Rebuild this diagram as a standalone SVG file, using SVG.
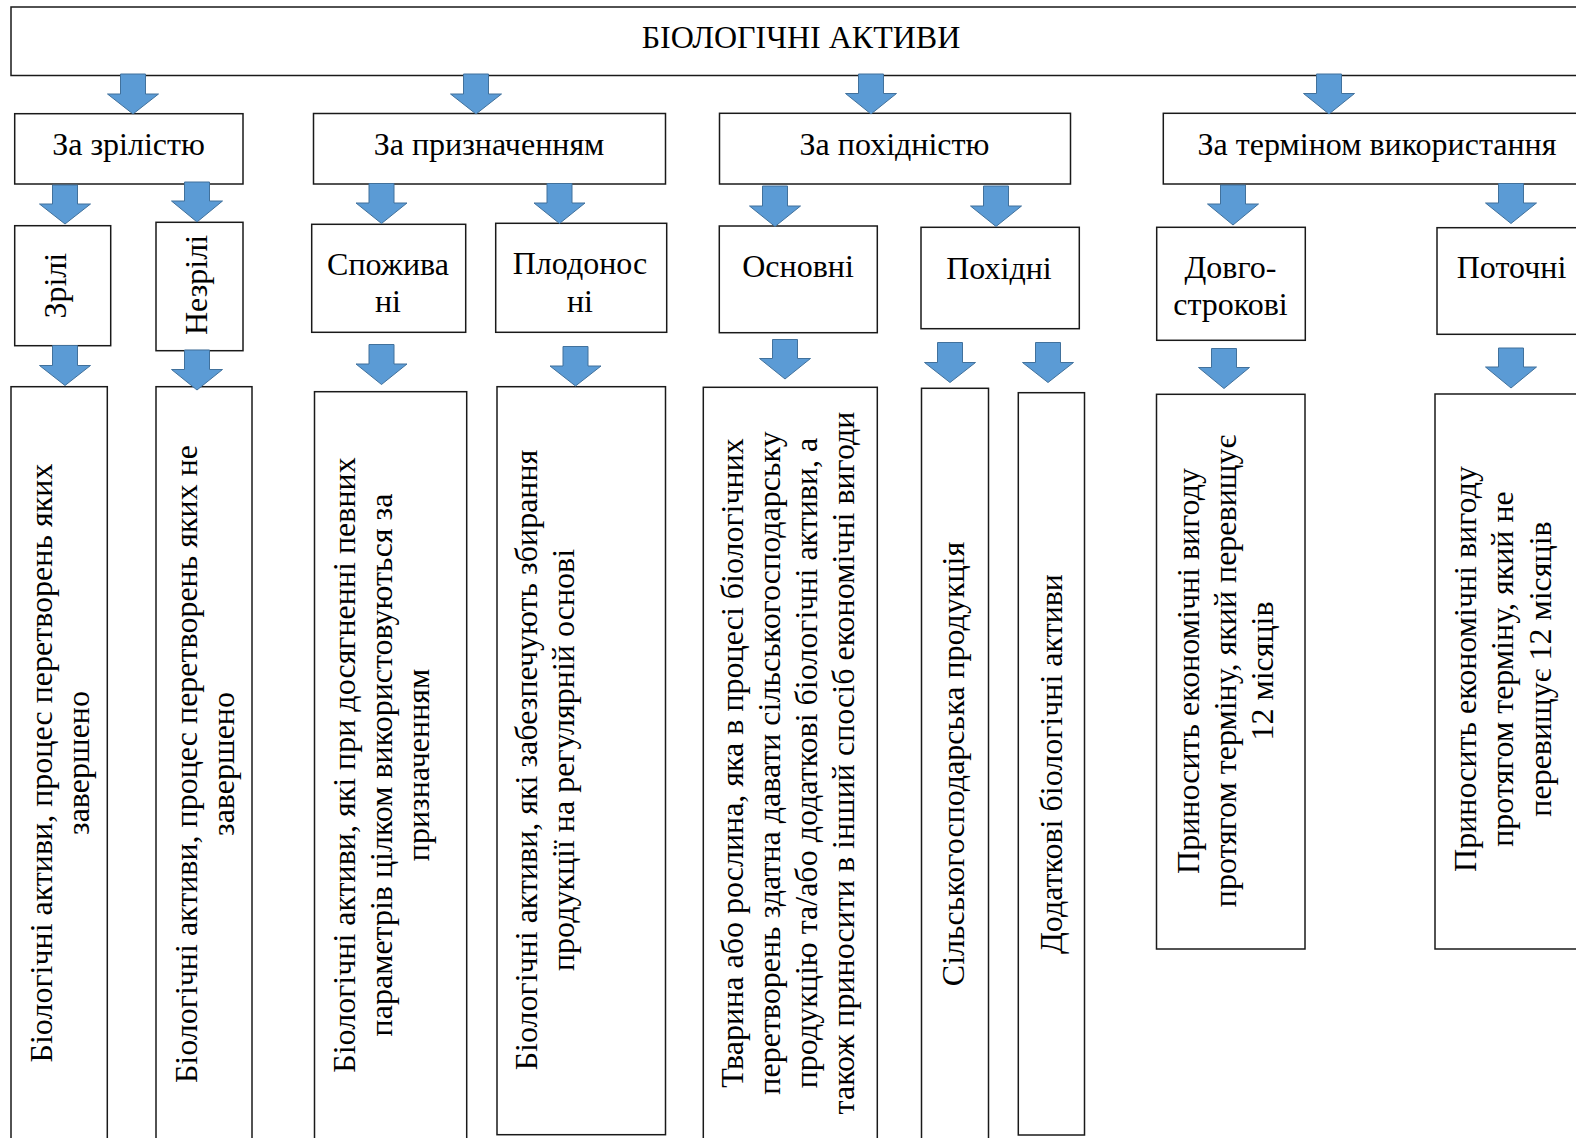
<svg xmlns="http://www.w3.org/2000/svg" width="1576" height="1138" viewBox="0 0 1576 1138">
<style>
.box{fill:#fff;stroke:#1a1a1a;stroke-width:1.5}
.arr{fill:#5B9BD5;stroke:#41719C;stroke-width:1}
text{font-family:"Liberation Serif","Times New Roman",serif;font-size:32px;fill:#000}
.c{text-anchor:middle}
</style>
<rect width="1576" height="1138" fill="#fff"/>
<g id="nodes">
<g id="root"><rect class="box" x="11" y="7" width="1600" height="68.5"/><text class="c" x="801" y="48">БІОЛОГІЧНІ АКТИВИ</text></g>
<g id="za-zrilistyu"><rect class="box" x="14.7" y="113.7" width="228.3" height="70.3"/><text class="c" x="128.5" y="155">За зрілістю</text></g>
<g id="za-pryznachennyam"><rect class="box" x="313.5" y="113.5" width="352" height="70.5"/><text class="c" x="489" y="155">За призначенням</text></g>
<g id="za-pokhidnistyu"><rect class="box" x="719.5" y="113.3" width="351" height="70.7"/><text class="c" x="894.5" y="155">За похідністю</text></g>
<g id="za-terminom"><rect class="box" x="1163.3" y="113.3" width="500" height="70.7"/><text class="c" x="1377" y="155">За терміном використання</text></g>

<g id="zrili"><rect class="box" x="14.7" y="225.7" width="96" height="120"/><text class="c" transform="translate(65.5,285.7) rotate(-90)">Зрілі</text></g>
<g id="nezrili"><rect class="box" x="156" y="222.3" width="87" height="128.4"/><text class="c" transform="translate(206.5,285) rotate(-90)">Незрілі</text></g>
<g id="spozhyvani"><rect class="box" x="311.7" y="224.3" width="154" height="108"/><text class="c" x="388" y="275">Спожива</text><text class="c" x="388" y="312">ні</text></g>
<g id="plodonosni"><rect class="box" x="495.7" y="223.3" width="171" height="109"/><text class="c" x="580" y="274">Плодонос</text><text class="c" x="580" y="312">ні</text></g>
<g id="osnovni"><rect class="box" x="719.3" y="226" width="158" height="106.7"/><text class="c" x="798" y="277">Основні</text></g>
<g id="pokhidni"><rect class="box" x="921" y="227.3" width="158.3" height="101.4"/><text class="c" x="999" y="279">Похідні</text></g>
<g id="dovgostrokovi"><rect class="box" x="1156.7" y="227.3" width="148.6" height="113"/><text class="c" x="1230.5" y="278">Довго-</text><text class="c" x="1230.5" y="315">строкові</text></g>
<g id="potochni"><rect class="box" x="1437" y="227.7" width="200" height="106.6"/><text class="c" x="1511.5" y="278">Поточні</text></g>

<g id="d-zrili"><rect class="box" x="11" y="386.7" width="96.3" height="800"/>
<text class="c" transform="translate(0,763) rotate(-90)"><tspan x="0" y="51.7">Біологічні активи, процес перетворень яких</tspan><tspan x="0" y="88.7">завершено</tspan></text></g>
<g id="d-nezrili"><rect class="box" x="156" y="386.7" width="96" height="800"/>
<text class="c" transform="translate(0,764) rotate(-90)"><tspan x="0" y="196.7">Біологічні активи, процес перетворень яких не</tspan><tspan x="0" y="233.7">завершено</tspan></text></g>
<g id="d-spozhyvani"><rect class="box" x="314.5" y="391.7" width="152.2" height="800"/>
<text class="c" transform="translate(0,765) rotate(-90)"><tspan x="0" y="355">Біологічні активи, які при досягненні певних</tspan><tspan x="0" y="392">параметрів цілком використовуються за</tspan><tspan x="0" y="429">призначенням</tspan></text></g>
<g id="d-plodonosni"><rect class="box" x="497" y="386.7" width="168.5" height="748"/>
<text class="c" transform="translate(0,760) rotate(-90)"><tspan x="0" y="536.7">Біологічні активи, які забезпечують збирання</tspan><tspan x="0" y="573.7">продукції на регулярній основі</tspan></text></g>
<g id="d-osnovni"><rect class="box" x="703.3" y="387.3" width="174" height="800"/>
<text class="c" transform="translate(0,763) rotate(-90)"><tspan x="0" y="743.3">Тварина або рослина, яка в процесі біологічних</tspan><tspan x="0" y="780.3">перетворень здатна давати сільськогосподарську</tspan><tspan x="0" y="817.3">продукцію та/або додаткові біологічні активи, а</tspan><tspan x="0" y="854.3">також приносити в інший спосіб економічні вигоди</tspan></text></g>
<g id="d-silsk"><rect class="box" x="921.5" y="388.3" width="67" height="800"/>
<text class="c" transform="translate(0,764) rotate(-90)"><tspan x="0" y="964">Сільськогосподарська продукція</tspan></text></g>
<g id="d-dodatkovi"><rect class="box" x="1018.3" y="392.7" width="66.2" height="742.3"/>
<text class="c" transform="translate(0,764) rotate(-90)"><tspan x="0" y="1062">Додаткові біологічні активи</tspan></text></g>
<g id="d-dovgo"><rect class="box" x="1156.5" y="394.3" width="148.5" height="554.7"/>
<text class="c" transform="translate(0,671) rotate(-90)"><tspan x="0" y="1198.5">Приносить економічні вигоду</tspan><tspan x="0" y="1235.5">протягом терміну, який перевищує</tspan><tspan x="0" y="1272.5">12 місяців</tspan></text></g>
<g id="d-potochni"><rect class="box" x="1435" y="394" width="200" height="555"/>
<text class="c" transform="translate(0,669) rotate(-90)"><tspan x="0" y="1475.5">Приносить економічні вигоду</tspan><tspan x="0" y="1513">протягом терміну, який не</tspan><tspan x="0" y="1550.5">перевищує 12 місяців</tspan></text></g>
</g>
<g id="connectors">
<path class="arr" d="M120.5,74 H145.5 V94 H158.5 L133,114 L107.5,94 H120.5 Z"/>
<path class="arr" d="M463.5,74 H488.5 V94 H501.5 L476,114 L450.5,94 H463.5 Z"/>
<path class="arr" d="M858.5,74 H883.5 V93.5 H896.5 L871,114 L845.5,93.5 H858.5 Z"/>
<path class="arr" d="M1316.5,74 H1341.5 V93.5 H1354.5 L1329,114 L1303.5,93.5 H1316.5 Z"/>
<path class="arr" d="M52.5,185 H77.5 V204 H90.5 L65,224 L39.5,204 H52.5 Z"/>
<path class="arr" d="M184.5,182 H209.5 V201 H222.5 L197,222 L171.5,201 H184.5 Z"/>
<path class="arr" d="M369,183.5 H394 V203 H407 L381.5,223.5 L356,203 H369 Z"/>
<path class="arr" d="M547,183.5 H572 V203 H585 L559.5,223.5 L534,203 H547 Z"/>
<path class="arr" d="M762.5,186 H787.5 V206 H800.5 L775,226.5 L749.5,206 H762.5 Z"/>
<path class="arr" d="M983.5,186 H1008.5 V206 H1021.5 L996,226.5 L970.5,206 H983.5 Z"/>
<path class="arr" d="M1220.5,185 H1245.5 V204 H1258.5 L1233,225 L1207.5,204 H1220.5 Z"/>
<path class="arr" d="M1498.5,183.5 H1523.5 V203 H1536.5 L1511,223.5 L1485.5,203 H1498.5 Z"/>
<path class="arr" d="M52.5,345.5 H77.5 V365.5 H90.5 L65,385.5 L39.5,365.5 H52.5 Z"/>
<path class="arr" d="M184.5,350 H209.5 V369.5 H222.5 L197,390 L171.5,369.5 H184.5 Z"/>
<path class="arr" d="M369,344.5 H394 V364 H407 L381.5,384.5 L356,364 H369 Z"/>
<path class="arr" d="M563,346.5 H588 V366 H601 L575.5,386 L550,366 H563 Z"/>
<path class="arr" d="M772.5,339.5 H797.5 V358.5 H810.5 L785,379 L759.5,358.5 H772.5 Z"/>
<path class="arr" d="M937.5,342.5 H962.5 V362.5 H975.5 L950,382.5 L924.5,362.5 H937.5 Z"/>
<path class="arr" d="M1035.5,342.5 H1060.5 V362.5 H1073.5 L1048,382.5 L1022.5,362.5 H1035.5 Z"/>
<path class="arr" d="M1211.5,348.5 H1236.5 V367.5 H1249.5 L1224,388.5 L1198.5,367.5 H1211.5 Z"/>
<path class="arr" d="M1498.5,348 H1523.5 V367 H1536.5 L1511,388 L1485.5,367 H1498.5 Z"/>
</g>
</svg>
